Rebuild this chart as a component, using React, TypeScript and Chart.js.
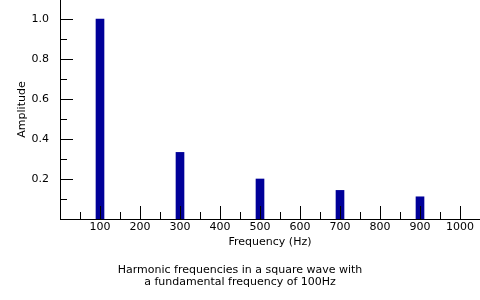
import React, { useEffect, useRef } from "react";
import { Chart, registerables } from "chart.js";

Chart.register(...registerables);

const harmonicFrequencies = [100, 300, 500, 700, 900];
const amplitudes = [1.0, 0.333, 0.2, 0.143, 0.111];
const xTickValues = [100, 200, 300, 400, 500, 600, 700, 800, 900, 1000];
const xMinorTickValues = [50, 150, 250, 350, 450, 550, 650, 750, 850, 950];
const yTickValues = [0.2, 0.4, 0.6, 0.8, 1.0];
const yMinorTickValues = [0.1, 0.3, 0.5, 0.7, 0.9];
const titleLines = [
  "Harmonic frequencies in a square wave with",
  "a fundamental frequency of 100Hz",
];

const FONT = "'DejaVu Sans', Verdana, sans-serif";
const font = { family: FONT, size: 11, lineHeight: 12 / 11 };

const tickMarks = {
  id: "tickMarks",
  afterDatasetsDraw(chart: any) {
    const { ctx, scales, chartArea } = chart;
    const x = scales.x;
    const y = scales.y;
    ctx.save();
    ctx.strokeStyle = "#000";
    ctx.lineWidth = 1;
    ctx.beginPath();
    const bottom = Math.round(chartArea.bottom);
    const left = Math.round(chartArea.left);
    const drawX = (v: number, len: number) => {
      const px = Math.round(x.getPixelForValue(v)) + 0.5;
      ctx.moveTo(px, bottom);
      ctx.lineTo(px, bottom - len);
    };
    const drawY = (v: number, len: number) => {
      const py = Math.round(y.getPixelForValue(v)) + 0.5;
      ctx.moveTo(left, py);
      ctx.lineTo(left + len, py);
    };
    xTickValues.forEach((v) => drawX(v, 13));
    xMinorTickValues.forEach((v) => drawX(v, 7));
    yTickValues.forEach((v) => drawY(v, 13));
    yMinorTickValues.forEach((v) => drawY(v, 7));
    ctx.stroke();
    ctx.restore();
  },
};

export default function App() {
  const ref = useRef<HTMLCanvasElement>(null);
  useEffect(() => {
    if (!ref.current) return;
    const chart = new Chart(ref.current, {
      type: "bar",
      data: {
        datasets: [
          {
            data: harmonicFrequencies.map((f, i) => ({ x: f, y: amplitudes[i] })),
            backgroundColor: "#000099",
            borderWidth: 0,
            barThickness: 8,
          },
        ],
      },
      plugins: [tickMarks],
      options: {
        animation: false,
        responsive: false,
        layout: { padding: 0, autoPadding: false },
        plugins: {
          legend: { display: false },
          tooltip: { enabled: false },
          title: {
            display: true,
            position: "bottom",
            text: titleLines,
            color: "#000",
            font: { ...font, weight: "normal" },
            padding: { top: 15, bottom: 12 },
          },
        },
        scales: {
          x: {
            type: "linear",
            offset: false,
            min: 0,
            max: 1050,
            grid: { display: false, drawTicks: false, offset: false },
            border: { display: true, color: "#000", width: 1 },
            ticks: {
              stepSize: 100,
              includeBounds: false,
              autoSkip: false,
              maxRotation: 0,
              padding: 2,
              color: "#000",
              font,
              callback: (v: any) => (v === 0 ? "" : String(v)),
            },
            title: {
              display: true,
              text: "Frequency (Hz)",
              color: "#000",
              font,
              padding: { top: 0, bottom: 1 },
            },
            afterFit: (s: any) => {
              s.height = 30;
              s.paddingLeft = 0;
              s.paddingRight = 0;
            },
          },
          y: {
            type: "linear",
            min: 0,
            max: 1.095,
            grid: { display: false, drawTicks: false },
            border: { display: true, color: "#000", width: 1 },
            ticks: {
              stepSize: 0.2,
              includeBounds: false,
              padding: 11,
              color: "#000",
              font,
              callback: (v: any) => (v === 0 ? "" : Number(v).toFixed(1)),
            },
            title: {
              display: true,
              text: "Amplitude",
              color: "#000",
              font,
              padding: { top: 16, bottom: 0 },
            },
            afterFit: (s: any) => {
              s.width = 60;
              s.paddingTop = 0;
              s.paddingBottom = 0;
            },
          },
        },
      },
    } as any);
    return () => chart.destroy();
  }, []);
  return (
    <div style={{ position: "fixed", left: 0, top: 0, width: 480, height: 300, background: "#fff" }}>
      <canvas ref={ref} width={480} height={300} style={{ display: "block" }} />
    </div>
  );
}
